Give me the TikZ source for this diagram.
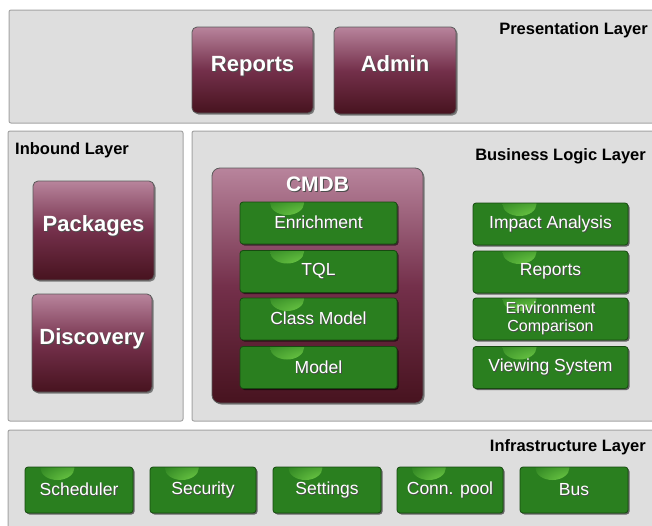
\documentclass[tikz,border=0pt]{standalone}
\usepackage{fontspec}
\setmainfont{Liberation Sans}
\usetikzlibrary{shadows,fadings,calc}
\definecolor{panelfill}{HTML}{DEDEDE}
\definecolor{panelline}{HTML}{A4A4A4}
\definecolor{mtop}{HTML}{B8849C}
\definecolor{mmid}{HTML}{74304B}
\definecolor{mbot}{HTML}{47131F}
\definecolor{gfill}{HTML}{2A7F1F}
\definecolor{gline}{HTML}{174A10}
\definecolor{gglow}{HTML}{7EDC50}
\newcommand\shtext[1]{\makebox[0pt][l]{\hspace{1pt}\raisebox{-1pt}{\textcolor{black!70}{#1}}}#1}
\tikzset{
  panel/.style={draw=panelline, line width=1pt, fill=panelfill, rounded corners=2pt, inner sep=0pt},
  layertitle/.style={font=\fontsize{16.5}{18}\selectfont\bfseries, text=black, inner sep=0pt},
  mbox/.style={draw=black!65, line width=0.8pt, rounded corners=5pt,
    top color=mtop, bottom color=mbot, middle color=mmid,
    drop shadow={shadow xshift=1.5pt, shadow yshift=-1.5pt, opacity=0.45, fill=black},
    text=white, font=\fontsize{22}{24}\selectfont\bfseries, inner sep=0pt, text depth=13pt},
  gbox/.style={draw=gline, line width=0.8pt, rounded corners=3pt, fill=gfill,
    drop shadow={shadow xshift=1.5pt, shadow yshift=-1.5pt, opacity=0.55, fill=black},
    text=white, font=\fontsize{17.5}{19}\selectfont, inner sep=0pt,
    minimum height=42pt,
    path picture={\shade[inner color=gglow, outer color=gfill]
      ($(path picture bounding box.north west)!0.3!(path picture bounding box.north east)+(0,-1pt)$)
      ellipse (17pt and 12pt);}},
}
\begin{document}
\begin{tikzpicture}[x=1pt,y=-1pt]
\useasboundingbox (0,0) rectangle (652,525);
\fill[white] (0,0) rectangle (652,525);

% panels
\node[panel, minimum width=651pt, minimum height=113pt] (pres) at (334.5,66.5) {};
\node[panel, minimum width=175pt, minimum height=290pt] (inb) at (95.5,276) {};
\node[panel, minimum width=468pt, minimum height=290pt] (biz) at (426,276) {};
\node[panel, minimum width=652pt, minimum height=100pt] (infra) at (334,480) {};

% titles
\node[layertitle, anchor=east] (tpres) at (648,30) {Presentation Layer};
\node[layertitle, anchor=west] (tinb) at (15,150) {Inbound Layer};
\node[layertitle, anchor=east] (tbiz) at (646,156) {Business Logic Layer};
\node[layertitle, anchor=east] (tinfra) at (646,447) {Infrastructure Layer};

% presentation
\node[mbox, minimum width=121pt, minimum height=86pt] (prep) at (252.5,70) {\shtext{Reports}};
\node[mbox, minimum width=122pt, minimum height=87pt] (admin) at (395,70.5) {\shtext{Admin}};

% inbound
\node[mbox, minimum width=121pt, minimum height=99pt] (pkg) at (93.5,230.5) {\shtext{Packages}};
\node[mbox, minimum width=120pt, minimum height=98pt] (disc) at (92,343) {\shtext{Discovery}};

% CMDB
\node[mbox, rounded corners=8pt, minimum width=211pt, minimum height=235pt] (cmdb) at (317.5,285.5) {};
\node[text=white, font=\fontsize{21}{23}\selectfont\bfseries, inner sep=0pt] (cmdbt) at (317.5,185) {\shtext{CMDB}};
\node[gbox, minimum width=157pt] (enr) at (318.5,223) {\shtext{Enrichment}};
\node[gbox, minimum width=157pt] (tql) at (318.5,271.5) {\shtext{TQL}};
\node[gbox, minimum width=157pt] (cls) at (318.5,319) {\shtext{Class Model}};
\node[gbox, minimum width=157pt] (mdl) at (318.5,367.5) {\shtext{Model}};

% right column
\node[gbox, minimum width=155pt] (imp) at (550.5,224) {\shtext{Impact Analysis}};
\node[gbox, minimum width=155pt] (brep) at (550.5,272) {\shtext{Reports}};
\node[gbox, minimum width=155pt, align=center, font=\fontsize{16}{18}\selectfont] (env) at (550.5,319) {\shtext{Environment}\\\shtext{Comparison}};
\node[gbox, minimum width=155pt] (view) at (550.5,367.5) {\shtext{Viewing System}};

% infrastructure
\node[gbox, minimum width=108pt, minimum height=46pt] (sch) at (79,490) {\shtext{Scheduler}};
\node[gbox, minimum width=106pt, minimum height=46pt] (sec) at (203,490) {\shtext{Security}};
\node[gbox, minimum width=108pt, minimum height=46pt] (set) at (327,490) {\shtext{Settings}};
\node[gbox, minimum width=106pt, minimum height=46pt] (conn) at (450,490) {\shtext{Conn. pool}};
\node[gbox, minimum width=108pt, minimum height=46pt] (bus) at (574,490) {\shtext{Bus}};
\end{tikzpicture}
\end{document}
